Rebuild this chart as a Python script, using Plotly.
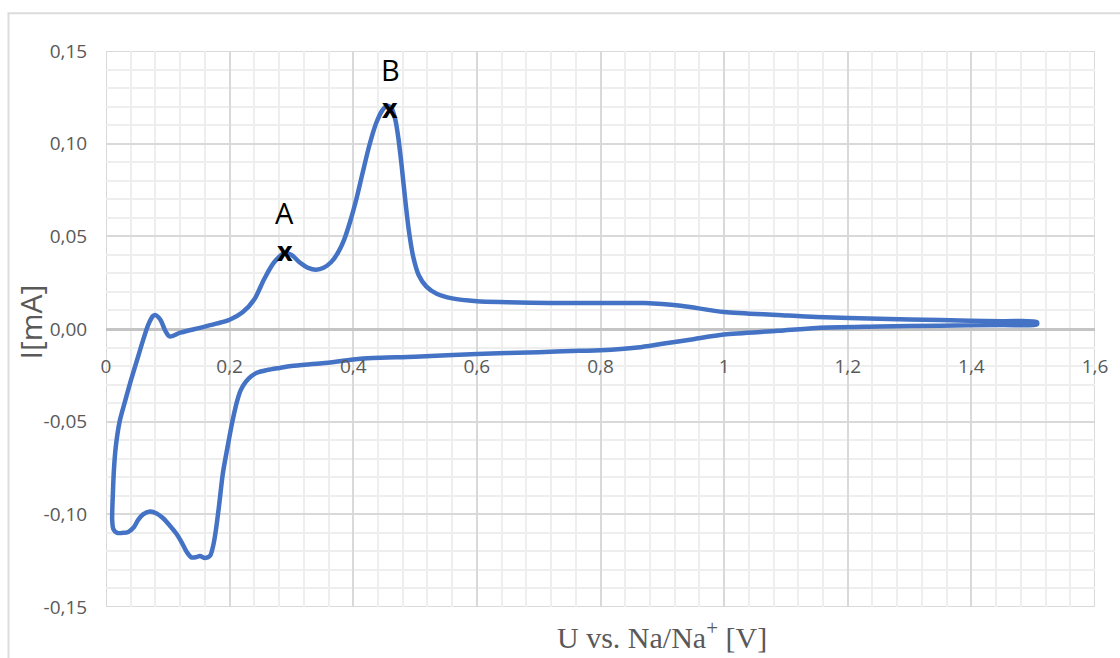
import plotly.graph_objects as go

# Anodic sweep (left to right), potential in V, current in mA
u_fwd = [0.010, 0.011, 0.013, 0.016, 0.022, 0.030, 0.040, 0.050, 0.060, 0.068, 0.076,
         0.080, 0.088, 0.096, 0.103, 0.120, 0.150, 0.180, 0.200, 0.221, 0.240, 0.256,
         0.272, 0.289, 0.300, 0.313, 0.327, 0.340, 0.352, 0.364, 0.375, 0.385, 0.395,
         0.405, 0.415, 0.426, 0.437, 0.447, 0.455, 0.462, 0.468, 0.473, 0.478, 0.484,
         0.490, 0.497, 0.506, 0.518, 0.535, 0.560, 0.600, 0.650, 0.720, 0.800, 0.872,
         0.930, 1.000, 1.087, 1.150, 1.250, 1.350, 1.450, 1.506]
i_fwd = [-0.103, -0.090, -0.075, -0.063, -0.050, -0.040, -0.028, -0.017, -0.006, 0.002, 0.007,
         0.0075, 0.005, -0.001, -0.004, -0.002, 0.0005, 0.003, 0.005, 0.009, 0.016, 0.027,
         0.036, 0.041, 0.040, 0.036, 0.033, 0.032, 0.033, 0.036, 0.041, 0.048, 0.058,
         0.070, 0.084, 0.099, 0.111, 0.118, 0.1205, 0.119, 0.113, 0.103, 0.089, 0.070,
         0.053, 0.039, 0.029, 0.023, 0.019, 0.0165, 0.015, 0.0145, 0.014, 0.014, 0.014,
         0.0125, 0.0092, 0.0076, 0.0065, 0.0055, 0.0048, 0.0042, 0.0038]

# Cathodic sweep (right to left)
u_rev = [1.506, 1.450, 1.350, 1.250, 1.150, 1.087, 1.000, 0.950, 0.900, 0.860, 0.800,
         0.765, 0.700, 0.600, 0.500, 0.431, 0.400, 0.350, 0.300, 0.281, 0.260, 0.245,
         0.235, 0.226, 0.218, 0.212, 0.207, 0.202, 0.197, 0.189, 0.183, 0.178, 0.174,
         0.168, 0.160, 0.152, 0.145, 0.138, 0.131, 0.123, 0.114, 0.103, 0.092, 0.082,
         0.071, 0.060, 0.052, 0.045, 0.036, 0.027, 0.018, 0.012, 0.010]
i_rev = [0.0025, 0.0022, 0.0018, 0.0013, 0.0006, -0.0010, -0.0030, -0.0055, -0.008, -0.010, -0.0115,
         -0.0118, -0.0125, -0.0135, -0.0150, -0.0157, -0.0165, -0.0185, -0.0200, -0.0210, -0.0222, -0.0235,
         -0.0255, -0.0285, -0.033, -0.039, -0.046, -0.054, -0.063, -0.078, -0.095, -0.108, -0.116,
         -0.1225, -0.1235, -0.1225, -0.1232, -0.1232, -0.1205, -0.1155, -0.1105, -0.106, -0.102, -0.0995,
         -0.0985, -0.100, -0.103, -0.107, -0.1095, -0.110, -0.110, -0.108, -0.103]

# Marked oxidation peaks
peak_names = ["A", "B"]
peak_u = [0.289, 0.460]
peak_i = [0.041, 0.118]

x_ticks = [0, 0.2, 0.4, 0.6, 0.8, 1.0, 1.2, 1.4, 1.6]
x_tick_text = ["0", "0,2", "0,4", "0,6", "0,8", "1", "1,2", "1,4", "1,6"]
y_ticks = [-0.15, -0.10, -0.05, 0.0, 0.05, 0.10, 0.15]
y_tick_text = ["-0,15", "-0,10", "-0,05", "0,00", "0,05", "0,10", "0,15"]

BLUE = "#4472C4"
GRID = "#d9d9d9"
MINOR = "#eeeeee"
TEXT = "#595959"
FONT = "Open Sans"

fig = go.Figure()
fig.add_trace(go.Scatter(
    x=u_fwd + u_rev, y=i_fwd + i_rev, mode="lines",
    line=dict(color=BLUE, width=4.5, shape="spline", smoothing=0.8),
    hoverinfo="skip", showlegend=False,
))

for name, u, i in zip(peak_names, peak_u, peak_i):
    fig.add_annotation(x=u, y=i, text="<b>x</b>", showarrow=False,
                       font=dict(family=FONT, size=27, color="black"),
                       xanchor="center", yanchor="middle", yshift=3)
    fig.add_annotation(x=u, y=i, text=name, showarrow=False,
                       font=dict(family=FONT, size=29, color="black"),
                       xanchor="center", yanchor="bottom", yshift=19)

# plot frame and outer chart frame
fig.add_shape(type="rect", xref="x", yref="y", x0=0, x1=1.6, y0=-0.15, y1=0.15,
              line=dict(color=GRID, width=2), layer="below")
fig.add_shape(type="rect", xref="paper", yref="paper", x0=-0.0986, x1=1.2,
              y0=-0.3, y1=1.068, line=dict(color="#dcdcdc", width=2), layer="below")

fig.update_xaxes(
    range=[0, 1.6], tickvals=x_ticks, ticktext=x_tick_text,
    anchor="free", position=0.5,
    showgrid=True, gridcolor=GRID, gridwidth=1.5, zeroline=False, showline=False,
    ticks="outside", ticklen=20, tickcolor="rgba(0,0,0,0)",
    tickfont=dict(family=FONT, size=19, color=TEXT),
    minor=dict(dtick=0.04, tick0=0, showgrid=True, gridcolor=MINOR, gridwidth=1.5),
)
fig.update_yaxes(
    range=[-0.15, 0.15], tickvals=y_ticks, ticktext=y_tick_text,
    showgrid=True, gridcolor=GRID, gridwidth=1.5,
    zeroline=True, zerolinecolor="#c4c4c4", zerolinewidth=2.5, showline=False,
    ticks="outside", ticklen=14, tickcolor="rgba(0,0,0,0)",
    tickfont=dict(family=FONT, size=19, color=TEXT),
    minor=dict(dtick=0.01, tick0=0, showgrid=True, gridcolor=MINOR, gridwidth=1.5),
)

fig.add_annotation(xref="paper", yref="paper", x=(665 - 106) / 994, y=(607 - 635) / 556,
                   text="U vs. Na/Na<sup>+</sup> [V]", showarrow=False,
                   font=dict(family="Liberation Serif", size=30, color=TEXT),
                   xanchor="center", yanchor="middle")
fig.add_annotation(xref="paper", yref="paper", x=(30 - 106) / 994, y=(607 - 322) / 556,
                   text="I[mA]", showarrow=False, textangle=-90,
                   font=dict(family=FONT, size=30, color=TEXT),
                   xanchor="center", yanchor="middle")

fig.update_layout(
    width=1120, height=658,
    margin=dict(l=106, r=20, t=51, b=51),
    paper_bgcolor="white", plot_bgcolor="white",
    showlegend=False,
)

fig.write_html("out.html")
